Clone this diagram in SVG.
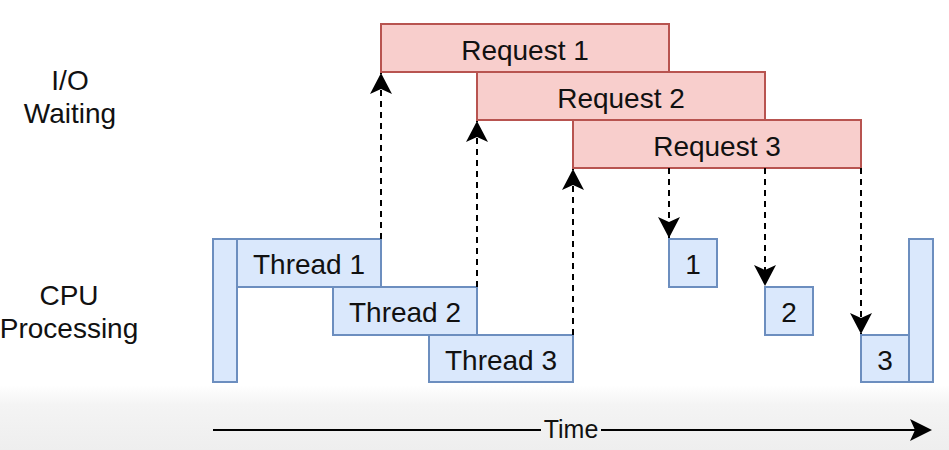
<svg xmlns="http://www.w3.org/2000/svg" width="949" height="450" viewBox="0 0 949 450">
  <defs>
    <linearGradient id="floor" x1="0" y1="0" x2="0" y2="1">
      <stop offset="0" stop-color="#ffffff"/>
      <stop offset="0.3" stop-color="#f4f4f4"/>
      <stop offset="1" stop-color="#eeeeee"/>
    </linearGradient>
    <marker id="head" viewBox="0 0 22 22" refX="21" refY="11" markerWidth="22" markerHeight="22" markerUnits="userSpaceOnUse" orient="auto">
      <path d="M21,11 L0,0 L5,11 L0,22 Z" fill="#000"/>
    </marker>
  </defs>
  <style>
    text { font-family: "Liberation Sans", Arial, sans-serif; fill: #111; }
    .lbl { font-size: 28px; text-anchor: middle; }
    .req { fill: #f8cecc; stroke: #b85450; stroke-width: 2; }
    .cpu { fill: #dae8fc; stroke: #6c8ebf; stroke-width: 2; }
    .dash { fill: none; stroke: #000; stroke-width: 2; stroke-dasharray: 6 5; marker-end: url(#head); }
    .axis { fill: none; stroke: #000; stroke-width: 2; }
  </style>

  <rect x="0" y="0" width="949" height="450" fill="#ffffff"/>
  <rect x="0" y="385" width="949" height="65" fill="url(#floor)"/>

  <!-- row labels -->
  <g id="label-io">
    <text class="lbl" x="70" y="90">I/O</text>
    <text class="lbl" x="70" y="123">Waiting</text>
  </g>
  <g id="label-cpu">
    <text class="lbl" x="69" y="305">CPU</text>
    <text class="lbl" x="69" y="338">Processing</text>
  </g>

  <!-- I/O requests -->
  <g id="request-1">
    <rect class="req" x="381" y="24" width="288" height="48"/>
    <text class="lbl" x="525" y="60">Request 1</text>
  </g>
  <g id="request-2">
    <rect class="req" x="477" y="72" width="288" height="48"/>
    <text class="lbl" x="621" y="108">Request 2</text>
  </g>
  <g id="request-3">
    <rect class="req" x="573" y="120" width="288" height="48"/>
    <text class="lbl" x="717" y="156">Request 3</text>
  </g>

  <!-- CPU work -->
  <g id="cpu-start">
    <rect class="cpu" x="213" y="239" width="24" height="143"/>
  </g>
  <g id="thread-1">
    <rect class="cpu" x="237" y="239" width="144" height="48"/>
    <text class="lbl" x="309" y="274">Thread 1</text>
  </g>
  <g id="thread-2">
    <rect class="cpu" x="333" y="287" width="144" height="48"/>
    <text class="lbl" x="405" y="322">Thread 2</text>
  </g>
  <g id="thread-3">
    <rect class="cpu" x="429" y="335" width="144" height="47"/>
    <text class="lbl" x="501" y="370">Thread 3</text>
  </g>
  <g id="resume-1">
    <rect class="cpu" x="669" y="239" width="48" height="48"/>
    <text class="lbl" x="693" y="274">1</text>
  </g>
  <g id="resume-2">
    <rect class="cpu" x="765" y="287" width="48" height="48"/>
    <text class="lbl" x="789" y="322">2</text>
  </g>
  <g id="resume-3">
    <rect class="cpu" x="861" y="335" width="48" height="47"/>
    <text class="lbl" x="885" y="370">3</text>
  </g>
  <g id="cpu-end">
    <rect class="cpu" x="909" y="239" width="24" height="143"/>
  </g>

  <!-- connectors -->
  <g id="connectors">
    <path class="dash" d="M381,239 L381,73"/>
    <path class="dash" d="M477,287 L477,121"/>
    <path class="dash" d="M573,335 L573,169"/>
    <path class="dash" d="M669,168 L669,238"/>
    <path class="dash" d="M765,168 L765,286"/>
    <path class="dash" d="M861,168 L861,334"/>
    <!-- time axis -->
    <path class="axis" d="M213,430 L541,430"/>
    <path class="axis" d="M601,430 L915,430"/>
    <path d="M932,430 L910,419 L915,430 L910,441 Z" fill="#000"/>
    <text x="571" y="438" font-size="25" text-anchor="middle">Time</text>
  </g>
</svg>
